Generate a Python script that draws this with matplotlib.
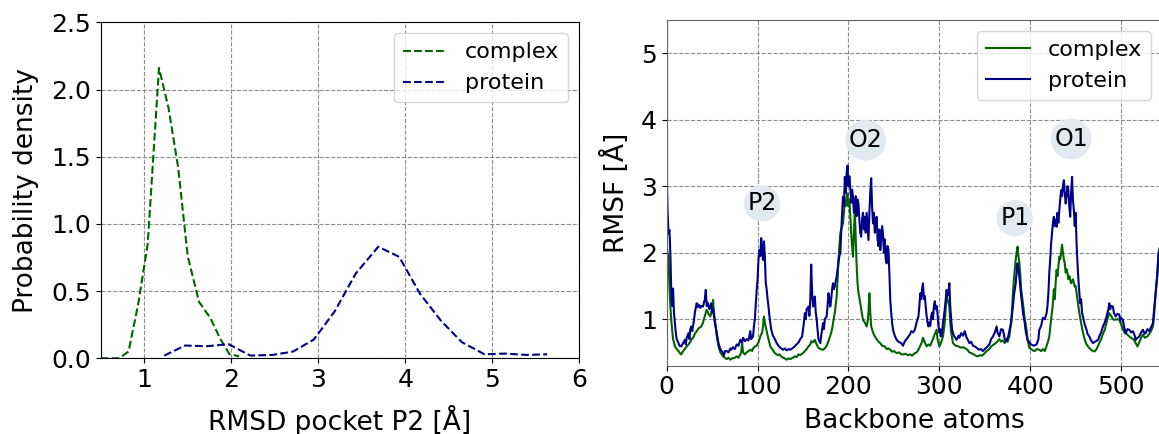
import matplotlib
matplotlib.use("Agg")
import matplotlib.pyplot as plt

# ---------------- data: left panel (probability density of pocket RMSD) -------------
rmsd_complex_x = [0.50, 0.60, 0.71, 0.82, 0.93, 1.04, 1.17, 1.28, 1.39, 1.50, 1.63, 1.76, 1.87, 1.98, 2.09]
rmsd_complex_y = [0.00, 0.00, 0.00, 0.05, 0.40, 0.85, 2.16, 1.86, 1.42, 0.76, 0.42, 0.30, 0.15, 0.03, 0.015]

rmsd_protein_x = [1.23, 1.47, 1.72, 1.97, 2.22, 2.47, 2.71, 2.95, 3.19, 3.43, 3.69, 3.93, 4.17, 4.41, 4.65, 4.91, 5.15, 5.39, 5.63]
rmsd_protein_y = [0.02, 0.095, 0.09, 0.105, 0.02, 0.025, 0.05, 0.14, 0.35, 0.63, 0.83, 0.755, 0.48, 0.28, 0.12, 0.03, 0.035, 0.025, 0.03]

# ---------------- data: right panel (RMSF per backbone atom), (atom, RMSF) ------------
protein_points = [
    (0, 3.24), (1, 2.6), (2, 2.29), (3, 2.34), (4, 2.0), (5, 1.44), (6, 1.2), (7, 1.46), (8, 1.1), (9, 0.94),
    (10, 0.8), (11, 0.7), (13, 0.64), (14, 0.6), (16, 0.59), (18, 0.64), (20, 0.69), (21, 0.62), (22, 0.72),
    (24, 0.79), (25, 0.7), (26, 0.85), (27, 0.89), (28, 0.82), (30, 0.98), (31, 1.1), (33, 1.24), (34, 1.18),
    (35, 1.22), (37, 1.17), (38, 1.2), (40, 1.19), (41, 1.25), (42, 1.3), (43, 1.44), (44, 1.2), (45, 1.25),
    (46, 1.19), (47, 1.15), (48, 1.2), (49, 1.24), (50, 1.1), (51, 1.15), (53, 0.94), (55, 0.8), (57, 0.64),
    (59, 0.55), (62, 0.49), (63, 0.45), (64, 0.52), (66, 0.52), (68, 0.5), (70, 0.56), (71, 0.54), (73, 0.58),
    (75, 0.55), (77, 0.62), (79, 0.6), (81, 0.69), (83, 0.65), (84, 0.72), (86, 0.67), (88, 0.7), (90, 0.68),
    (92, 0.82), (93, 0.7), (95, 0.74), (96, 0.9), (97, 1.0), (99, 1.44), (100, 1.6), (101, 1.9), (102, 2.04),
    (103, 1.95), (104, 2.22), (105, 2.0), (106, 1.89), (107, 2.17), (108, 1.95), (109, 1.54), (110, 1.45),
    (111, 1.3), (112, 1.19), (113, 1.05), (115, 0.84), (117, 0.75), (119, 0.7), (121, 0.64), (123, 0.6),
    (125, 0.57), (128, 0.54), (130, 0.56), (132, 0.53), (134, 0.55), (136, 0.54), (138, 0.56), (140, 0.58),
    (143, 0.62), (145, 0.65), (147, 0.7), (149, 0.74), (150, 0.85), (151, 0.95), (152, 1.09), (153, 1.0),
    (154, 1.15), (156, 1.19), (157, 1.05), (158, 1.3), (159, 1.82), (160, 1.4), (161, 1.19), (162, 1.25),
    (163, 1.34), (164, 1.1), (165, 1.0), (166, 0.84), (167, 0.7), (169, 0.64), (170, 0.75), (172, 0.94),
    (173, 0.85), (174, 1.0), (176, 1.04), (177, 1.2), (178, 1.39), (179, 1.3), (180, 1.19), (181, 1.3),
    (182, 1.45), (183, 1.54), (184, 1.45), (185, 1.5), (187, 1.64), (188, 1.75), (189, 1.85), (190, 1.95),
    (191, 1.99), (192, 2.3), (193, 2.6), (194, 2.84), (195, 2.7), (196, 3.14), (197, 2.9), (198, 3.2),
    (199, 3.31), (200, 3.0), (201, 3.15), (202, 2.97), (203, 2.75), (204, 2.95), (205, 2.84), (206, 2.6),
    (207, 2.64), (208, 2.85), (209, 2.55), (210, 2.8), (211, 2.74), (212, 2.5), (213, 2.3), (214, 2.24),
    (215, 2.5), (216, 2.6), (217, 2.35), (218, 2.54), (219, 2.3), (220, 2.6), (221, 2.4), (222, 2.19),
    (223, 2.6), (224, 2.9), (225, 3.12), (226, 2.7), (227, 2.44), (228, 2.6), (229, 2.3), (230, 2.45),
    (231, 2.54), (232, 2.2), (233, 2.1), (234, 2.35), (235, 2.04), (236, 2.2), (237, 2.4), (238, 2.29),
    (239, 2.0), (240, 2.2), (241, 1.9), (242, 1.84), (243, 2.1), (244, 2.04), (245, 1.7), (246, 1.29),
    (247, 1.1), (248, 0.95), (249, 0.84), (251, 0.75), (253, 0.69), (255, 0.66), (258, 0.64), (260, 0.6),
    (262, 0.67), (264, 0.7), (266, 0.74), (268, 0.78), (269, 0.82), (271, 0.8), (273, 0.84), (275, 0.95),
    (277, 1.04), (278, 1.2), (279, 1.39), (280, 1.3), (281, 1.45), (282, 1.54), (283, 1.3), (284, 1.35),
    (285, 1.19), (286, 1.05), (287, 0.95), (288, 0.89), (289, 0.95), (290, 0.9), (291, 1.04), (292, 1.1),
    (293, 1.0), (294, 1.2), (295, 1.27), (296, 1.15), (297, 1.2), (298, 1.09), (299, 0.9), (300, 0.8),
    (301, 0.85), (302, 0.74), (303, 0.8), (304, 0.95), (305, 1.04), (306, 1.15), (307, 1.3), (308, 1.44),
    (309, 1.35), (310, 1.4), (311, 1.54), (312, 1.2), (313, 1.0), (314, 0.84), (316, 0.75), (319, 0.69),
    (321, 0.75), (322, 0.72), (324, 0.79), (326, 0.75), (328, 0.82), (330, 0.72), (331, 0.7), (333, 0.64),
    (335, 0.66), (337, 0.6), (339, 0.59), (341, 0.57), (344, 0.54), (346, 0.55), (348, 0.52), (350, 0.55),
    (353, 0.59), (355, 0.62), (357, 0.7), (359, 0.74), (361, 0.8), (363, 0.89), (364, 0.8), (366, 0.74),
    (368, 0.85), (370, 0.84), (372, 0.7), (374, 0.67), (376, 0.75), (377, 0.82), (379, 0.95), (381, 1.19),
    (382, 1.35), (384, 1.54), (385, 1.7), (386, 1.84), (387, 1.75), (388, 1.64), (389, 1.5), (390, 1.35),
    (391, 1.24), (392, 1.1), (394, 0.94), (395, 0.82), (397, 0.69), (399, 0.65), (401, 0.62), (404, 0.6),
    (407, 0.62), (409, 0.7), (410, 0.84), (412, 0.9), (414, 1.02), (416, 1.0), (418, 1.09), (419, 1.2),
    (420, 1.39), (421, 1.7), (422, 1.9), (423, 2.14), (424, 2.3), (425, 2.45), (426, 2.54), (427, 2.4),
    (428, 2.5), (429, 2.39), (430, 2.6), (431, 2.45), (432, 2.64), (433, 2.8), (434, 2.94), (435, 2.85),
    (436, 3.0), (437, 3.09), (438, 2.9), (439, 2.74), (440, 2.85), (441, 3.0), (442, 2.94), (443, 2.7),
    (444, 2.54), (445, 2.9), (446, 3.14), (447, 2.8), (448, 2.64), (449, 2.4), (450, 2.6), (451, 2.14),
    (452, 1.84), (453, 1.6), (454, 1.4), (455, 1.24), (456, 1.3), (457, 1.1), (458, 1.04), (460, 0.92),
    (462, 0.84), (463, 0.78), (465, 0.74), (467, 0.68), (469, 0.64), (471, 0.66), (473, 0.67), (475, 0.7),
    (476, 0.74), (478, 0.8), (480, 0.89), (482, 0.95), (484, 1.04), (486, 1.15), (487, 1.24), (488, 1.15),
    (489, 1.2), (491, 1.19), (492, 1.1), (494, 1.04), (496, 1.08), (498, 1.07), (499, 0.98), (500, 1.02),
    (502, 0.99), (503, 0.9), (505, 0.79), (507, 0.85), (509, 0.84), (511, 0.8), (513, 0.82), (515, 0.75),
    (516, 0.69), (518, 0.72), (520, 0.74), (522, 0.8), (524, 0.84), (526, 0.78), (527, 0.79), (529, 0.85),
    (531, 0.82), (533, 0.88), (535, 0.94), (536, 1.1), (538, 1.39), (540, 1.7), (541, 1.94), (543, 2.1),
    (545, 2.3),
]

complex_points = [
    (0, 2.10), (1, 2.0), (2, 1.94), (3, 1.5), (4, 1.2), (5, 0.99), (6, 0.85), (7, 0.7), (9, 0.59), (11, 0.55),
    (13, 0.52), (15, 0.48), (16, 0.47), (18, 0.52), (20, 0.55), (22, 0.59), (24, 0.62), (26, 0.66), (27, 0.69),
    (29, 0.72), (31, 0.78), (33, 0.82), (35, 0.86), (38, 0.89), (40, 0.95), (42, 1.05), (44, 1.14), (46, 1.08),
    (48, 1.04), (50, 1.15), (51, 1.29), (52, 1.1), (54, 0.89), (55, 0.75), (57, 0.59), (59, 0.5), (62, 0.44),
    (64, 0.42), (66, 0.4), (68, 0.42), (70, 0.39), (72, 0.41), (75, 0.42), (77, 0.44), (79, 0.42), (81, 0.47),
    (82, 0.5), (83, 0.64), (84, 0.5), (86, 0.47), (88, 0.5), (90, 0.52), (92, 0.54), (94, 0.52), (95, 0.56),
    (97, 0.59), (99, 0.6), (101, 0.65), (103, 0.74), (105, 0.8), (106, 0.9), (107, 1.04), (108, 0.95),
    (110, 0.82), (112, 0.7), (114, 0.59), (116, 0.55), (119, 0.49), (122, 0.46), (124, 0.47), (126, 0.44),
    (128, 0.42), (130, 0.41), (132, 0.39), (134, 0.41), (136, 0.4), (139, 0.42), (141, 0.44), (143, 0.43),
    (145, 0.47), (147, 0.46), (150, 0.49), (152, 0.52), (154, 0.55), (156, 0.59), (158, 0.62), (159, 0.67),
    (161, 0.65), (163, 0.69), (165, 0.62), (167, 0.57), (169, 0.55), (172, 0.54), (174, 0.56), (176, 0.6),
    (178, 0.67), (180, 0.75), (182, 0.85), (183, 0.94), (185, 1.1), (187, 1.34), (188, 1.6), (189, 1.9),
    (191, 2.29), (192, 2.35), (194, 2.44), (195, 2.6), (196, 2.79), (197, 2.7), (198, 2.85), (199, 2.89),
    (200, 2.7), (201, 2.8), (202, 2.54), (203, 2.3), (204, 2.1), (205, 1.94), (206, 2.3), (207, 2.64),
    (208, 2.2), (209, 1.8), (210, 1.54), (211, 1.4), (213, 1.24), (214, 1.15), (216, 0.99), (218, 0.95),
    (220, 0.89), (221, 0.95), (222, 1.1), (223, 1.39), (224, 1.1), (225, 0.89), (227, 0.8), (229, 0.74),
    (231, 0.7), (233, 0.66), (235, 0.64), (237, 0.6), (240, 0.59), (242, 0.55), (244, 0.56), (246, 0.54),
    (248, 0.51), (250, 0.52), (253, 0.49), (256, 0.5), (258, 0.47), (260, 0.47), (263, 0.48), (265, 0.46),
    (268, 0.47), (270, 0.45), (272, 0.48), (275, 0.5), (277, 0.54), (279, 0.6), (281, 0.66), (282, 0.72),
    (284, 0.65), (286, 0.59), (288, 0.62), (290, 0.6), (291, 0.64), (293, 0.7), (295, 0.78), (297, 0.84),
    (298, 0.7), (300, 0.59), (302, 0.65), (304, 0.74), (306, 0.95), (308, 1.39), (309, 1.3), (311, 1.19),
    (312, 0.95), (313, 0.8), (315, 0.64), (318, 0.6), (321, 0.59), (324, 0.57), (326, 0.58), (328, 0.565),
    (331, 0.54), (333, 0.5), (335, 0.49), (338, 0.47), (340, 0.45), (342, 0.44), (345, 0.46), (347, 0.45),
    (350, 0.49), (352, 0.52), (355, 0.55), (357, 0.59), (360, 0.62), (362, 0.64), (364, 0.665), (366, 0.7),
    (368, 0.66), (370, 0.68), (372, 0.64), (374, 0.7), (375, 0.66), (377, 0.74), (379, 0.95), (381, 1.39),
    (382, 1.6), (383, 1.75), (384, 1.89), (385, 2.0), (386, 2.09), (387, 1.95), (388, 1.85), (389, 1.69),
    (390, 1.45), (392, 1.24), (394, 1.0), (396, 0.84), (397, 0.7), (399, 0.57), (401, 0.55), (403, 0.53),
    (405, 0.52), (407, 0.55), (410, 0.54), (412, 0.52), (414, 0.55), (416, 0.52), (418, 0.6), (420, 0.68),
    (421, 0.74), (423, 1.0), (425, 1.24), (426, 1.45), (427, 1.3), (428, 1.55), (429, 1.74), (430, 1.65),
    (431, 1.8), (432, 1.94), (433, 1.9), (434, 2.0), (435, 2.12), (436, 2.0), (437, 1.9), (438, 1.84),
    (439, 1.7), (440, 1.75), (441, 1.69), (442, 1.6), (443, 1.65), (445, 1.54), (447, 1.6), (449, 1.49),
    (450, 1.5), (452, 1.29), (454, 1.1), (456, 0.94), (458, 0.8), (460, 0.69), (462, 0.62), (465, 0.565),
    (467, 0.54), (469, 0.52), (471, 0.515), (473, 0.55), (476, 0.64), (478, 0.7), (480, 0.78), (482, 0.84),
    (484, 0.95), (486, 1.05), (487, 1.09), (489, 1.05), (491, 1.0), (493, 0.99), (496, 1.0), (498, 0.99),
    (500, 0.92), (502, 0.85), (504, 0.79), (506, 0.78), (509, 0.74), (511, 0.72), (514, 0.69), (516, 0.64),
    (518, 0.59), (520, 0.65), (522, 0.72), (524, 0.77), (526, 0.72), (529, 0.74), (531, 0.78), (533, 0.82),
    (535, 0.89), (536, 1.0), (538, 1.39), (540, 1.7), (541, 1.99), (543, 2.1), (545, 2.2),
]

region_labels = ["P2", "O2", "P1", "O1"]
region_atoms = [105, 219, 383, 445]
region_rmsf = [2.74, 3.69, 2.52, 3.71]

protein_atoms = [p[0] for p in protein_points]
protein_rmsf = [p[1] for p in protein_points]
complex_atoms = [p[0] for p in complex_points]
complex_rmsf = [p[1] for p in complex_points]

# ---------------- figure --------------------------------------------------------------
W, H = 1159, 434
fig = plt.figure(figsize=(W / 100, H / 100), dpi=100)

def px_axes(x0, y0, x1, y1):
    return fig.add_axes([x0 / W, 1 - y1 / H, (x1 - x0) / W, (y1 - y0) / H])

green = "darkgreen"
blue = "darkblue"
grid_kw = dict(color="0.55", linestyle="--", linewidth=0.8)

# left panel
ax1 = px_axes(100.7, 22.3, 579.3, 358.3)
ax1.plot(rmsd_complex_x, rmsd_complex_y, "--", color=green, lw=1.5, label="complex")
ax1.plot(rmsd_protein_x, rmsd_protein_y, "--", color=blue, lw=1.5, label="protein")
ax1.set_xlim(0.5, 6.0)
ax1.set_ylim(0, 2.5)
ax1.set_xticks([1, 2, 3, 4, 5, 6])
ax1.set_yticks([0.0, 0.5, 1.0, 1.5, 2.0, 2.5])
ax1.set_yticklabels(["0.0", "0.5", "1.0", "1.5", "2.0", "2.5"])
ax1.grid(True, **grid_kw)
ax1.tick_params(labelsize=18)
ax1.set_xlabel("RMSD pocket P2 [Å]", fontsize=19, labelpad=9)
ax1.set_ylabel("Probability density", fontsize=19, labelpad=9)
ax1.legend(loc="upper right", fontsize=16)

# right panel
ax2 = px_axes(666.7, 20.0, 1162.0, 365.7)
ax2.plot(complex_atoms, complex_rmsf, "-", color=green, lw=1.5, label="complex")
ax2.plot(protein_atoms, protein_rmsf, "-", color=blue, lw=1.5, label="protein")
ax2.set_xlim(0, 545)
ax2.set_ylim(0.3, 5.5)
ax2.set_xticks([0, 100, 200, 300, 400, 500])
ax2.set_yticks([1, 2, 3, 4, 5])
ax2.grid(True, **grid_kw)
ax2.tick_params(labelsize=18)
for s in ax2.spines.values():
    s.set_color("0.4")
ax2.set_xlabel("Backbone atoms", fontsize=19, labelpad=6)
ax2.set_ylabel("RMSF [Å]", fontsize=19, labelpad=8)
ax2.legend(loc="upper right", fontsize=16)
for lab, xa, ya in zip(region_labels, region_atoms, region_rmsf):
    ax2.text(xa, ya, lab, fontsize=17, ha="center", va="center",
             bbox=dict(boxstyle="circle,pad=0.15", fc="#e3e9f0", ec="none"))

fig.savefig("out.png", dpi=100)
